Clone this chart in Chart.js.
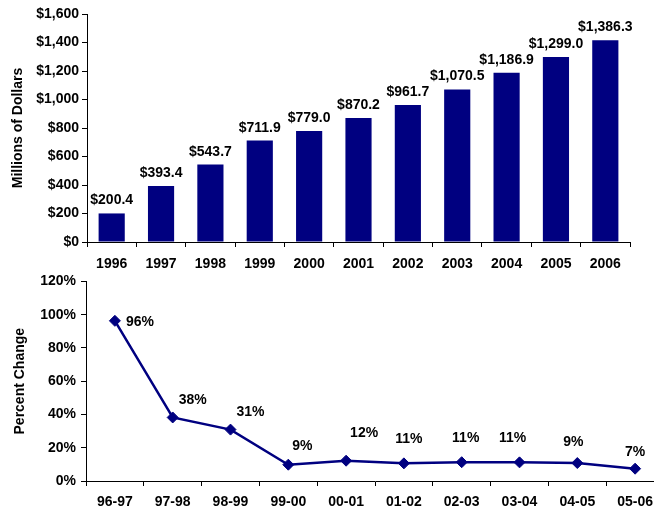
<!DOCTYPE html>
<html>
<head>
<meta charset="utf-8">
<script src="https://cdn.jsdelivr.net/npm/chart.js@4.4.0/dist/chart.umd.min.js"></script>
<style>
  html, body { margin: 0; padding: 0; background: #fff; overflow: hidden; }
  #wrap { position: relative; width: 654px; height: 512px; overflow: hidden; }
  #barChart { position: absolute; left: 0; top: 0; }
  #lineChart { position: absolute; left: 0; top: 268px; }
</style>
</head>
<body>
<div id="wrap">
  <canvas id="barChart" width="654" height="282"></canvas>
  <canvas id="lineChart" width="690" height="244"></canvas>
</div>
<script>
const years = ['1996', '1997', '1998', '1999', '2000', '2001', '2002', '2003', '2004', '2005', '2006'];
const spending = [200.4, 393.4, 543.7, 711.9, 779.0, 870.2, 961.7, 1070.5, 1186.9, 1299.0, 1415.0];
const spendingLabels = ['$200.4', '$393.4', '$543.7', '$711.9', '$779.0', '$870.2', '$961.7', '$1,070.5', '$1,186.9', '$1,299.0', '$1,386.3'];

const periods = ['96-97', '97-98', '98-99', '99-00', '00-01', '01-02', '02-03', '03-04', '04-05', '05-06'];
const pctChange = [96.3, 38.2, 30.9, 9.8, 12.2, 10.6, 11.3, 11.2, 10.8, 7.4];
const pctLabels = ['96%', '38%', '31%', '9%', '12%', '11%', '11%', '11%', '9%', '7%'];

const NAVY = '#000080';
const FONT = 'Liberation Sans, Arial, sans-serif';

Chart.defaults.font.family = FONT;
Chart.defaults.font.weight = 'bold';
Chart.defaults.font.size = 14;
Chart.defaults.color = '#000';

// Draws value labels next to the marks
const valueLabels = {
    id: 'valueLabels',
    afterDatasetsDraw(chart, args, opts) {
        const ctx = chart.ctx;
        const meta = chart.getDatasetMeta(0);
        ctx.save();
        ctx.font = 'bold 14px ' + FONT;
        ctx.fillStyle = '#000';
        ctx.textAlign = 'center';
        ctx.textBaseline = 'alphabetic';
        meta.data.forEach((el, i) => {
            const off = opts.offsets ? opts.offsets[i] : [0, 0];
            ctx.fillText(opts.labels[i], el.x + off[0], el.y + opts.dy + off[1]);
        });
        ctx.restore();
    }
};

const axisGrid = {
    display: true,
    drawOnChartArea: false,
    drawTicks: true,
    tickLength: 5,
    color: '#000'
};

new Chart('barChart', {
    type: 'bar',
    data: {
        labels: years,
        datasets: [{
            data: spending,
            backgroundColor: NAVY,
            barPercentage: 0.53,
            categoryPercentage: 1.0
        }]
    },
    options: {
        responsive: false,
        animation: false,
        layout: { padding: { top: 14, right: 24, left: 0, bottom: 0 } },
        plugins: {
            legend: { display: false },
            tooltip: { enabled: false },
            valueLabels: { labels: spendingLabels, dy: -9 }
        },
        scales: {
            x: {
                grid: axisGrid,
                border: { color: '#000' },
                ticks: { padding: 9 },
                afterFit: s => { s.height = 40; }
            },
            y: {
                min: 0,
                max: 1600,
                grid: axisGrid,
                border: { color: '#000' },
                ticks: {
                    stepSize: 200,
                    padding: 3,
                    callback: v => '$' + v.toLocaleString('en-US')
                },
                title: { display: true, text: 'Millions of Dollars', padding: { top: 10, bottom: 0 } },
                afterFit: s => { s.width = 87; }
            }
        }
    },
    plugins: [valueLabels]
});

new Chart('lineChart', {
    type: 'line',
    data: {
        labels: periods,
        datasets: [{
            data: pctChange,
            borderColor: NAVY,
            borderWidth: 2.5,
            backgroundColor: NAVY,
            pointStyle: 'rectRot',
            pointRadius: 5.5,
            pointBorderWidth: 1,
            pointBackgroundColor: NAVY,
            pointBorderColor: NAVY,
            tension: 0
        }]
    },
    options: {
        responsive: false,
        animation: false,
        layout: { padding: { top: 10, right: 26, left: 0, bottom: 0 } },
        plugins: {
            legend: { display: false },
            tooltip: { enabled: false },
            valueLabels: {
                labels: pctLabels,
                dy: 5,
                offsets: [[25, 0], [20, -18], [20, -19], [14, -20], [18, -29], [5, -25], [4, -25], [-7, -25], [-4, -22], [0, -18]]
            }
        },
        scales: {
            x: {
                offset: true,
                grid: Object.assign({}, axisGrid, { offset: true }),
                border: { color: '#000' },
                ticks: { padding: 8 },
                afterFit: s => { s.height = 31; }
            },
            y: {
                min: 0,
                max: 120,
                grid: axisGrid,
                border: { color: '#000' },
                ticks: {
                    stepSize: 20,
                    padding: 5,
                    callback: v => v + '%'
                },
                title: { display: true, text: 'Percent Change', padding: { top: 12, bottom: 0 } },
                afterFit: s => { s.width = 86; }
            }
        }
    },
    plugins: [valueLabels]
});
</script>
</body>
</html>
